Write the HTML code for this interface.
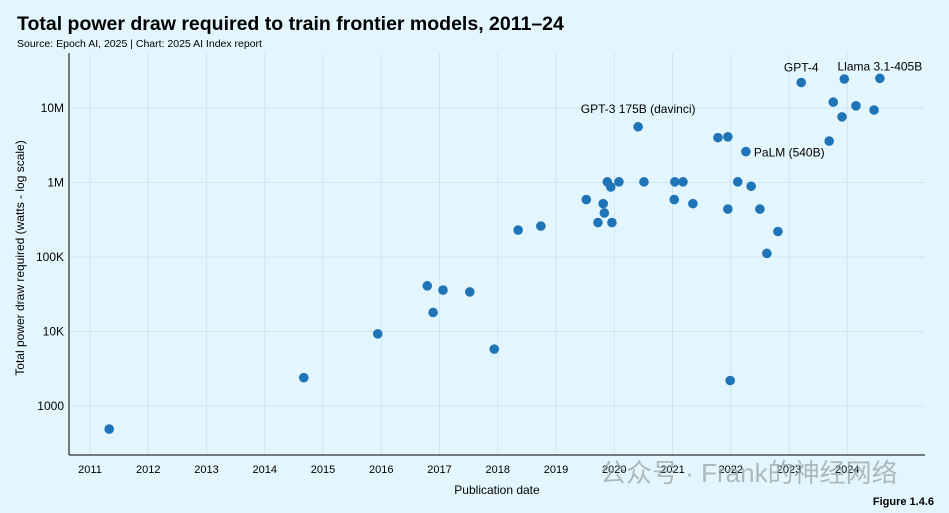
<!DOCTYPE html>
<html><head><meta charset="utf-8"><style>
body{margin:0;background:#e4f6fd;font-family:"Liberation Sans",sans-serif;}
#wrap{position:relative;width:949px;height:513px;overflow:hidden;background:#e4f6fd;}
</style></head><body>
<div id="wrap">
<svg id="chart" width="949" height="513" xmlns="http://www.w3.org/2000/svg">
<text x="17" y="30" font-size="19.5" font-weight="bold" fill="#000">Total power draw required to train frontier models, 2011–24</text>
<text x="17" y="47" font-size="10.5" fill="#000">Source: Epoch AI, 2025 | Chart: 2025 AI Index report</text>
<text x="24" y="258" font-size="12" fill="#000" text-anchor="middle" transform="rotate(-90 24 258)">Total power draw required (watts - log scale)</text>
<text x="497" y="494" font-size="12" fill="#000" text-anchor="middle">Publication date</text>
<text x="934" y="505" font-size="11" font-weight="bold" fill="#000" text-anchor="end">Figure 1.4.6</text>
<g id="grid"></g><g id="axes"></g><g id="marks"></g><g id="labels"></g>
<text x="600" y="482" font-size="26" fill="#9aa4a8" opacity="0.75" font-family="Liberation Sans, Noto Sans CJK SC, sans-serif">公众号 · Frank的神经网络</text>
</svg></div>
<script>
const yearTicks=[2011,2012,2013,2014,2015,2016,2017,2018,2019,2020,2021,2022,2023,2024];
const yTickValues=[1000,10000,100000,1000000,10000000];
const yTickLabels=["1000","10K","100K","1M","10M"];
const dates=[2011.33,2014.67,2015.94,2016.79,2016.89,2017.06,2017.52,2017.94,2018.35,2018.74,2019.52,2019.72,2019.81,2019.83,2019.88,2019.94,2019.96,2020.08,2020.41,2020.51,2021.03,2021.04,2021.18,2021.35,2021.78,2021.95,2021.95,2021.99,2022.12,2022.26,2022.35,2022.50,2022.62,2022.81,2023.21,2023.69,2023.76,2023.91,2023.95,2024.15,2024.46,2024.56];
const watts=[490,2400,9300,41000,18000,36000,34000,5800,230000,260000,590000,290000,520000,390000,1020000,870000,290000,1020000,5600000,1020000,590000,1020000,1020000,520000,4000000,4100000,440000,2200,1020000,2600000,890000,440000,112000,220000,22000000,3600000,12000000,7600000,24500000,10700000,9400000,25000000];
const annotations=[{i:18,t:"GPT-3 175B (davinci)",dx:0,dy:-14,a:"middle"},{i:29,t:"PaLM (540B)",dx:8,dy:5,a:"start"},{i:34,t:"GPT-4",dx:0,dy:-11,a:"middle"},{i:41,t:"Llama 3.1-405B",dx:0,dy:-8,a:"middle"}];
const NS="http://www.w3.org/2000/svg";
const X=v=>90+(v-2011)*58.25;
const Y=v=>108+(7-Math.log10(v))*74.5;
function mk(tag,attrs,parent){const e=document.createElementNS(NS,tag);for(const k in attrs)e.setAttribute(k,attrs[k]);document.getElementById(parent).appendChild(e);return e;}
yearTicks.forEach(y=>{
 const l=mk('line',{x1:X(y),x2:X(y),y1:53,y2:455,stroke:'#cfe6ef','stroke-width':1},'grid');
 
 
 const t=mk('text',{x:X(y),y:473,'font-size':11,'text-anchor':'middle',fill:'#000'},'axes');t.textContent=y;
 
 
});
yTickValues.forEach((v,i)=>{
 const l=mk('line',{x1:69,x2:925,y1:Y(v),y2:Y(v),stroke:'#cfe6ef','stroke-width':1},'grid');
 
 
 const t=mk('text',{x:64,y:Y(v)+4,'font-size':12,'text-anchor':'end',fill:'#000'},'axes');t.textContent=yTickLabels[i];
 
 
});
const ya=mk('line',{x1:69,x2:69,y1:53,y2:455,stroke:'#000','stroke-width':1},'axes');


const xa=mk('line',{x1:69,x2:925,y1:455,y2:455,stroke:'#000','stroke-width':1},'axes');


dates.forEach((d,i)=>{
 const c=mk('circle',{cx:X(d),cy:Y(watts[i]),r:4.8,fill:'#1f74b8'},'marks');
 
 
});
annotations.forEach(a=>{
 const t=mk('text',{x:X(dates[a.i])+a.dx,y:Y(watts[a.i])+a.dy,'font-size':12,'text-anchor':a.a,fill:'#000'},'labels');t.textContent=a.t;
 
 
});
</script></body></html>
